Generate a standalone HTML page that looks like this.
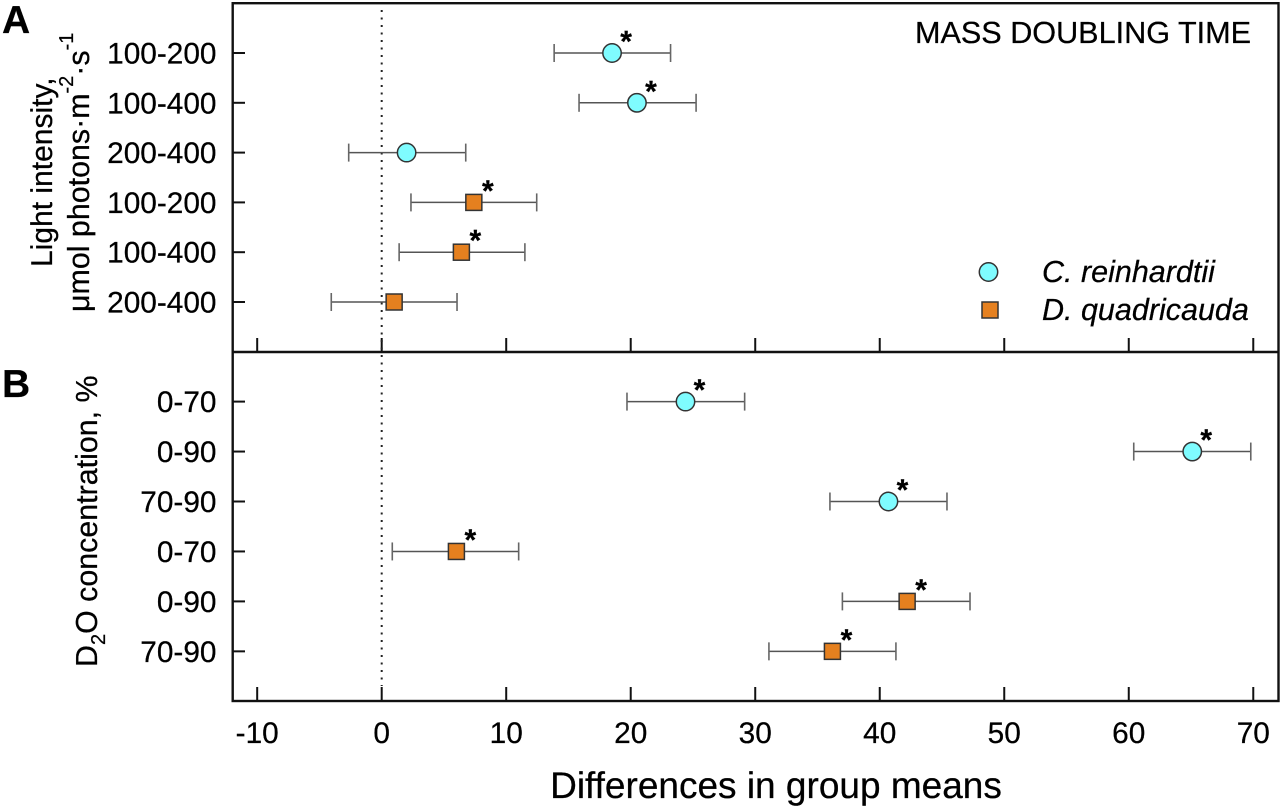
<!DOCTYPE html>
<html>
<head>
<meta charset="utf-8">
<title>Mass doubling time</title>
<style>
html,body{margin:0;padding:0;background:#fff;width:1282px;height:810px;overflow:hidden}
svg{display:block}
text{font-family:"Liberation Sans",sans-serif;fill:#000;stroke:#000;stroke-width:0.25px;text-rendering:geometricPrecision}
</style>
</head>
<body>
<svg id="chart" xmlns="http://www.w3.org/2000/svg" width="1282" height="810" viewBox="0 0 1282 810">
  <rect x="0" y="0" width="1282" height="810" fill="#fff"/>
  <g id="marks"></g>
  <line x1="381.7" y1="10" x2="381.7" y2="686" stroke="#222" stroke-width="2" stroke-dasharray="2 5.5"/>
  <g id="series"></g>
  <rect x="232.7" y="3.2" width="1045.8" height="697.8" fill="none" stroke="#111" stroke-width="2.4"/>
  <line x1="232.7" y1="352" x2="1278.5" y2="352" stroke="#111" stroke-width="2.4"/>
  <text x="2" y="33" font-size="39" font-weight="bold">A</text>
  <text x="2" y="397" font-size="39" font-weight="bold">B</text>
  <text x="915" y="43" font-size="30.6">MASS DOUBLING TIME</text>
  <text transform="translate(52,267) rotate(-90)" font-size="30">Light intensity,</text>
  <text transform="translate(89,312) rotate(-90)" font-size="30.4">&#956;mol photons&#183;m<tspan font-size="20" dy="-16">-2</tspan><tspan dy="16">&#183;s</tspan><tspan font-size="20" dy="-16">-1</tspan></text>
  <text transform="translate(97,667) rotate(-90)" font-size="30.4">D<tspan font-size="20" dy="8">2</tspan><tspan dy="-8">O concentration, %</tspan></text>
  <text x="776" y="798" font-size="37" text-anchor="middle">Differences in group means</text>
  <g>
    <circle cx="988.5" cy="272" r="9.2" fill="#7ffcff" stroke="#333" stroke-width="1.5"/>
    <text x="1042" y="282" font-size="30.5" font-style="italic">C. reinhardtii</text>
    <rect x="982" y="302" width="16" height="16" fill="#e5801f" stroke="#333" stroke-width="1.5"/>
    <text x="1042" y="320" font-size="30.5" font-style="italic">D. quadricauda</text>
  </g>
</svg>
<script>
const xTickValues = [-10, 0, 10, 20, 30, 40, 50, 60, 70];

const lightCategories = ['100-200', '100-400', '200-400', '100-200', '100-400', '200-400'];
const lightMeans = [18.5, 20.5, 2.0, 7.4, 6.4, 1.0];
const lightLows = [13.85, 15.85, -2.65, 2.35, 1.4, -4.05];
const lightHighs = [23.2, 25.25, 6.75, 12.45, 11.5, 6.05];
const lightSpecies = ['C', 'C', 'C', 'D', 'D', 'D'];
const lightSignificant = [true, true, false, true, true, false];

const d2oCategories = ['0-70', '0-90', '70-90', '0-70', '0-90', '70-90'];
const d2oMeans = [24.4, 65.1, 40.7, 6.0, 42.2, 36.2];
const d2oLows = [19.7, 60.4, 36.0, 0.85, 37.0, 31.1];
const d2oHighs = [29.15, 69.8, 45.4, 11.0, 47.25, 41.3];
const d2oSpecies = ['C', 'C', 'C', 'D', 'D', 'D'];
const d2oSignificant = [true, true, true, true, true, true];

const SVGNS = 'http://www.w3.org/2000/svg';
const marksLayer = document.getElementById('marks');
const seriesLayer = document.getElementById('series');

function xScale(v) { return 381.7 + 12.451 * v; }
function lightY(i) { return 53 + 49.8 * i; }
function d2oY(i) { return 401.6 + 49.95 * i; }

function make(parent, tag, props, text) {
  const el = document.createElementNS(SVGNS, tag);
  for (const k in props) el.setAttribute(k, props[k]);
  if (text !== undefined) el.textContent = text;
  parent.appendChild(el);
  return el;
}

function drawPanel(key, categories, means, lows, highs, species, significant, yScale, axisY) {
  xTickValues.forEach(function (v) {
    const tick = make(marksLayer, 'line', { x1: xScale(v), x2: xScale(v), y1: axisY - 14, y2: axisY, stroke: '#111', 'stroke-width': 2 });
    
    
  });
  categories.forEach(function (label, i) {
    const y = yScale(i);
    const tick = make(marksLayer, 'line', { x1: 232.7, x2: 245, y1: y, y2: y, stroke: '#111', 'stroke-width': 2 });
    
    
    const tickLabel = make(marksLayer, 'text', { x: 216.5, y: y + 10.5, 'font-size': 29.8, 'text-anchor': 'end' }, label);
    
    

    const lo = xScale(lows[i]);
    const hi = xScale(highs[i]);
    const mid = xScale(means[i]);
    const bar = make(seriesLayer, 'line', { x1: lo, x2: hi, y1: y, y2: y, stroke: '#555', 'stroke-width': 1.5 });
    
    
    const capLow = make(seriesLayer, 'line', { x1: lo, x2: lo, y1: y - 9, y2: y + 9, stroke: '#666', 'stroke-width': 1.6 });
    
    
    const capHigh = make(seriesLayer, 'line', { x1: hi, x2: hi, y1: y - 9, y2: y + 9, stroke: '#666', 'stroke-width': 1.6 });
    
    

    let marker;
    if (species[i] === 'C') {
      marker = make(seriesLayer, 'circle', { cx: mid, cy: y, r: 9.2, fill: '#7ffcff', stroke: '#333', 'stroke-width': 1.5 });
    } else {
      marker = make(seriesLayer, 'rect', { x: mid - 8, y: y - 8, width: 16, height: 16, fill: '#e5801f', stroke: '#333', 'stroke-width': 1.5 });
    }
    
    

    if (significant[i]) {
      const star = make(seriesLayer, 'text', { x: mid + 14, y: y - 1.5, 'font-size': 30, 'font-weight': 'bold', 'text-anchor': 'middle' }, '*');
      
      
    }
  });
}

drawPanel('light', lightCategories, lightMeans, lightLows, lightHighs, lightSpecies, lightSignificant, lightY, 352);
drawPanel('d2o', d2oCategories, d2oMeans, d2oLows, d2oHighs, d2oSpecies, d2oSignificant, d2oY, 701);

xTickValues.forEach(function (v) {
  const label = make(marksLayer, 'text', { x: xScale(v), y: 743, 'font-size': 29.8, 'text-anchor': 'middle' }, String(v));
  
  
});
</script>
</body>
</html>
